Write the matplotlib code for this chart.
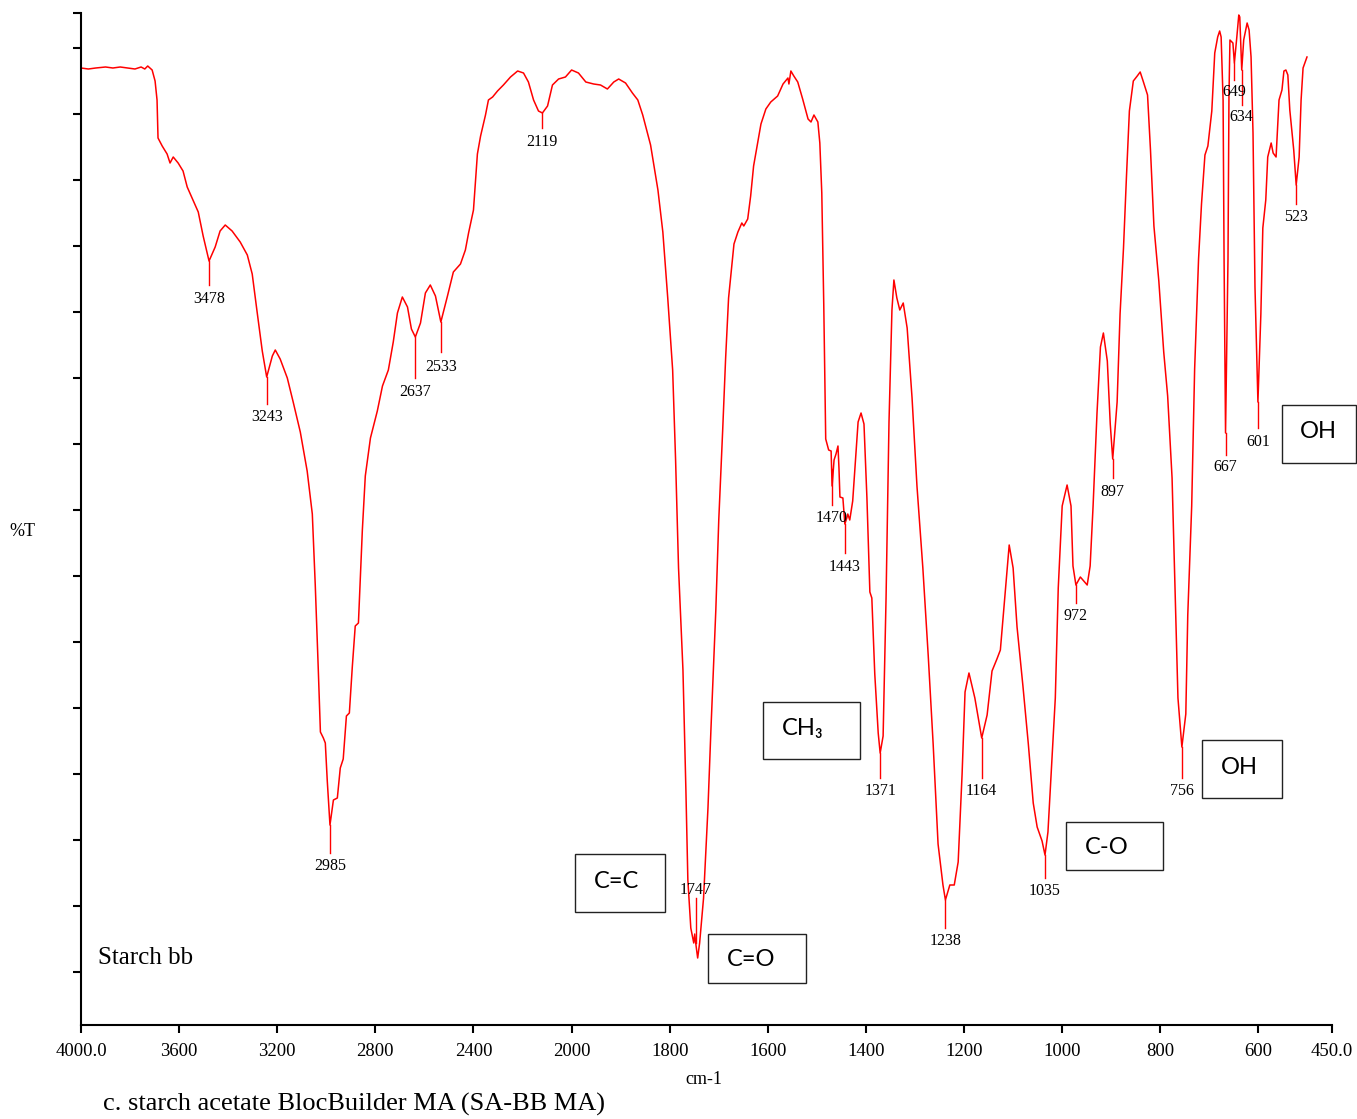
import numpy as np
import matplotlib.pyplot as plt
from matplotlib.patches import Rectangle

plt.rcParams['font.family'] = ['Liberation Serif', 'DejaVu Serif']

# ---- spectrum data (wavenumber cm-1, %T) ----
wn_ch = [4000, 3970, 3940, 3900, 3870, 3840, 3810, 3780, 3755, 3740, 3728,
         3710, 3698, 3690, 3686, 3669, 3649, 3637, 3624, 3604, 3584, 3567, 3547,
         3522, 3502, 3478, 3453, 3433, 3412, 3384, 3351, 3322, 3302, 3282, 3261,
         3243, 3220, 3208, 3188, 3159, 3135, 3106, 3078, 3057, 3045, 3033, 3024,
         3012, 3004, 2996, 2985, 2971, 2955, 2943, 2931, 2918, 2906, 2894, 2882,
         2869, 2853, 2841, 2820, 2792, 2771, 2747, 2727, 2710, 2690, 2669, 2653,
         2637, 2616, 2596, 2576, 2555, 2533, 2506, 2482, 2453, 2433, 2420, 2400,
         2384, 2371, 2351, 2339, 2322, 2302, 2278, 2249, 2220, 2196, 2176, 2155,
         2135, 2119, 2098, 2078, 2053, 2025, 2000]
t_ch = [95.7, 95.6, 95.7, 95.8, 95.7, 95.8, 95.7, 95.6, 95.8, 95.6, 95.9,
        95.5, 94.4, 92.5, 88.7, 87.9, 87.1, 86.2, 86.8, 86.2, 85.4, 83.8, 82.7,
        81.3, 78.9, 76.4, 77.8, 79.4, 80.0, 79.4, 78.3, 77.0, 75.1, 71.3, 67.4,
        64.8, 66.9, 67.5, 66.6, 64.7, 62.3, 59.3, 55.4, 51.1, 44.0, 35.8, 29.3,
        28.7, 28.2, 24.4, 20.0, 22.5, 22.7, 25.7, 26.6, 30.9, 31.2, 35.8, 39.9,
        40.2, 49.5, 54.9, 58.7, 61.4, 63.9, 65.5, 68.3, 71.2, 72.8, 71.8, 69.6,
        68.8, 70.2, 73.2, 74.0, 72.9, 70.3, 72.9, 75.3, 76.1, 77.5, 79.2, 81.5,
        87.1, 88.9, 91.0, 92.5, 92.8, 93.4, 94.0, 94.8, 95.4, 95.2, 94.3, 92.5,
        91.4, 91.2, 91.9, 94.0, 94.6, 94.8, 95.5]

wn_co = [1986, 1971, 1955, 1941, 1927, 1914, 1904, 1890, 1876, 1865, 1855,
         1839, 1824, 1814, 1804, 1794, 1788, 1782, 1773, 1767, 1763, 1757, 1751,
         1749, 1747, 1743, 1739, 1731, 1722, 1716, 1706, 1700, 1692, 1686, 1680,
         1669, 1661, 1653, 1649, 1641, 1635, 1629, 1614, 1604, 1594, 1580, 1569,
         1559, 1557, 1553, 1547, 1539, 1529, 1518, 1512, 1506, 1498, 1494, 1490,
         1486, 1482, 1476, 1471, 1469, 1465, 1461, 1457, 1455, 1453, 1447, 1443,
         1439, 1437, 1433, 1427, 1420, 1416, 1410, 1404]
t_co = [95.2, 94.3, 94.1, 94.0, 93.6, 94.3, 94.6, 94.2, 93.2, 92.5, 91.0,
        88.0, 83.5, 79.3, 72.7, 65.5, 56.5, 45.7, 35.5, 23.5, 14.5, 9.7, 8.2,
        9.1, 8.2, 6.7, 8.2, 12.7, 21.7, 29.5, 41.5, 50.5, 59.5, 66.7, 72.7,
        78.1, 79.3, 80.2, 79.9, 80.6, 82.9, 85.9, 90.1, 91.6, 92.3, 92.9, 94.1,
        94.7, 94.1, 95.4, 94.9, 94.3, 92.6, 90.6, 90.3, 91.0, 90.3, 88.2, 83.2,
        72.1, 58.6, 57.5, 57.4, 53.9, 56.5, 57.1, 57.9, 55.7, 52.8, 52.7, 50.1,
        50.7, 51.1, 50.5, 52.4, 57.4, 60.3, 61.2, 60.1]

wn_fp = [1398, 1392, 1388, 1382, 1375, 1371, 1365, 1359, 1353, 1347, 1343,
         1337, 1331, 1324, 1316, 1306, 1296, 1284, 1273, 1263, 1253, 1243, 1238,
         1229, 1220, 1212, 1204, 1198, 1190, 1178, 1164, 1153, 1143, 1133, 1126,
         1116, 1108, 1100, 1092, 1080, 1069, 1059, 1051, 1041, 1035, 1029, 1018,
         1014, 1008, 1000, 990, 982, 978, 972, 963, 949, 943, 937, 929, 922, 916,
         908, 902, 897, 888, 882, 875, 869, 863, 855, 847, 841, 835, 826, 820]
t_fp = [52.7, 43.3, 42.7, 35.1, 29.2, 27.2, 28.9, 42.7, 60.3, 71.5, 74.5,
        72.7, 71.5, 72.2, 69.7, 62.7, 53.9, 45.7, 36.9, 28.1, 18.1, 14.0, 12.5,
        14.0, 14.0, 16.3, 25.1, 33.3, 35.2, 32.7, 28.7, 31.0, 35.4, 36.6, 37.5,
        43.3, 48.0, 45.7, 39.8, 33.9, 28.1, 22.2, 19.8, 18.4, 17.0, 19.3, 29.2,
        32.7, 43.7, 51.9, 54.0, 51.9, 45.9, 44.0, 44.8, 44.0, 45.9, 51.9, 61.2, 67.8, 69.2,
        66.4, 60.1, 56.6, 62.3, 71.1, 77.7, 84.8, 91.4, 94.4, 94.9, 95.3, 94.4, 93.0, 87.5]

wn_oh = [813, 803, 793, 785, 776, 770, 764, 756, 748, 744, 736, 730, 722,
         716, 709, 703, 695, 689, 683, 679, 676, 672, 670, 667, 662, 660, 658,
         652, 649, 644, 640, 638, 634, 630, 623, 619, 615, 611, 607, 601, 595,
         591, 585, 581, 574, 570, 564, 560, 558, 552, 548, 544, 540, 536, 530,
         528, 523, 517, 513, 509, 501]
t_oh = [79.9, 74.4, 67.3, 62.9, 54.7, 43.7, 32.7, 27.8, 31.1, 41.0, 51.9, 65.6, 76.6,
        82.1, 87.0, 87.9, 91.4, 97.2, 98.8, 99.4, 98.8, 92.5, 76.6, 59.2, 76.6, 93.0, 98.5,
        98.2, 96.2, 98.8, 101.0, 100.8, 95.5, 98.5, 100.2, 99.5, 96.8, 89.2, 73.8, 62.3, 71.1,
        79.7, 82.5, 86.8, 88.2, 87.2, 86.8, 90.5, 92.5, 93.5, 95.4, 95.5, 95.0, 91.5, 88.5,
        87.5, 84.0, 86.8, 92.5, 95.7, 96.8]

wn = np.array(wn_ch + wn_co + wn_fp + wn_oh, dtype=float)
trans = np.array(t_ch + t_co + t_fp + t_oh)

peaks = [3478, 3243, 2985, 2637, 2533, 2119, 1747, 1470, 1443, 1371, 1238,
         1164, 1035, 972, 897, 756, 667, 601, 649, 634, 523]
# marker line length and text gap below it, in pixels
drops = [24, 27, 28, 41, 30, 15, -45, 36, 29, 25, 28, 40, 23, 18, 19, 31, 22, 26, 17, 35, 19]
gaps = [14, 13, 13, 14, 15, 14, -8, 14, 14, 13, 13, 13, 13, 13, 14, 13, 12, 14, 12, 12, 13]

xticks = [4000, 3600, 3200, 2800, 2400, 2000, 1800, 1600, 1400, 1200, 1000, 800, 600, 450]
xticklabels = ['4000.0', '3600', '3200', '2800', '2400', '2000', '1800', '1600',
               '1400', '1200', '1000', '800', '600', '450.0']

# group boxes: label, x0, y0, x1, y1, text x, text y (pixels)
boxes = [('C=C', 575, 854, 665, 912, 617, 881),
         ('C=O', 708, 934, 806, 983, 751, 960),
         ('CH\u2083', 763, 702, 860, 759, 803, 728),
         ('C-O', 1066, 822, 1163, 870, 1107, 847),
         ('OH', 1202, 740, 1282, 798, 1239, 767),
         ('OH', 1282, 405, 1356, 463, 1318, 432)]

W, H = 1357, 1119
fig = plt.figure(figsize=(W / 100, H / 100), dpi=100)
ax = fig.add_axes([81 / W, 1 - 1025 / H, (1332 - 81) / W, (1025 - 13) / H])


def fwd(w):
    w = np.asarray(w, dtype=float)
    return np.where(w > 2000, 2000 + (w - 2000) / 2, w)


def inv(u):
    u = np.asarray(u, dtype=float)
    return np.where(u > 2000, 2000 + 2 * (u - 2000), u)


ax.set_xscale('function', functions=(fwd, inv))
ax.plot(wn, trans, color='red', lw=1.1)
ax.set_xlim(4000, 450)
ax.set_ylim(0, 101.2)

ax.set_xticks(xticks, xticklabels, fontsize=13.5)
ax.set_yticks([5.3 + 6.6 * k for k in range(15)] + [101.2])
ax.set_yticklabels([])
ax.xaxis.set_minor_locator(plt.NullLocator())
for s in ['top', 'right']:
    ax.spines[s].set_visible(False)
for s in ['left', 'bottom']:
    ax.spines[s].set_linewidth(1.5)
ax.tick_params(direction='out', length=6, width=1.5, pad=7)

# peak markers
px = 0.1  # %T per pixel
for w, d, g in zip(peaks, drops, gaps):
    y0 = np.interp(w, wn[::-1], trans[::-1])
    y1 = y0 - d * px
    ax.plot([w, w], [y0, y1], color='red', lw=1.0)
    ax.text(w, y1 - g * px, str(w), ha='center', va='center', fontsize=11.5)

for lab, x0, y0, x1, y1, tx, ty in boxes:
    fig.add_artist(Rectangle((x0 / W, 1 - y1 / H), (x1 - x0) / W, (y1 - y0) / H,
                             transform=fig.transFigure, fill=False,
                             edgecolor='#222222', lw=1.0))
    fig.text(tx / W, 1 - ty / H, lab, ha='center', va='center', fontsize=17,
             family=['Lato', 'DejaVu Sans'])

fig.text(22 / W, 1 - 532 / H, '%T', ha='center', va='center', fontsize=13)
fig.text(704 / W, 1 - 1080 / H, 'cm-1', ha='center', va='center', fontsize=13)
fig.text(98 / W, 1 - 958 / H, 'Starch bb', ha='left', va='center', fontsize=18)
fig.text(103 / W, 1 - 1104 / H, 'c. starch acetate BlocBuilder MA (SA-BB MA)',
         ha='left', va='center', fontsize=19)

fig.savefig('out.png', dpi=100)
